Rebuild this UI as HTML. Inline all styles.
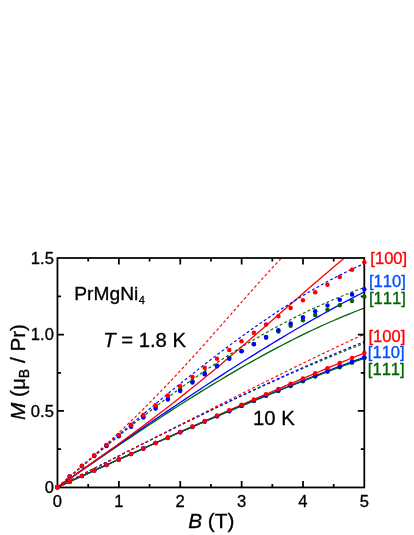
<!DOCTYPE html>
<html><head><meta charset="utf-8"><title>PrMgNi4 magnetization</title>
<style>
html,body{margin:0;padding:0;background:#fff;}
body{width:414px;height:535px;overflow:hidden;}
svg{display:block;will-change:transform;font-kerning:none;font-family:"Liberation Sans",sans-serif;}
text{stroke-width:0.32px;stroke-linejoin:round;}
</style></head><body>
<svg width="414" height="535" viewBox="0 0 414 535">
<rect width="414" height="535" fill="#fff"/>
<defs><clipPath id="cp"><rect x="57.40" y="258.10" width="306.90" height="229.10"/></clipPath></defs>

<g clip-path="url(#cp)" fill="none" stroke-width="1.30">
<path d="M57.40,487.20 L62.52,483.68 L67.63,480.16 L72.75,476.65 L77.86,473.13 L82.97,469.62 L88.09,466.12 L93.20,462.62 L98.32,459.12 L103.44,455.63 L108.55,452.16 L113.67,448.69 L118.78,445.23 L123.90,441.78 L129.01,438.34 L134.12,434.91 L139.24,431.50 L144.35,428.10 L149.47,424.72 L154.59,421.35 L159.70,418.00 L164.82,414.67 L169.93,411.35 L175.05,408.06 L180.16,404.79 L185.28,401.53 L190.39,398.30 L195.51,395.10 L200.62,391.91 L205.74,388.76 L210.85,385.62 L215.97,382.52 L221.08,379.44 L226.20,376.39 L231.31,373.37 L236.43,370.38 L241.54,367.42 L246.66,364.49 L251.77,361.60 L256.89,358.74 L262.00,355.91 L267.12,353.12 L272.23,350.37 L277.35,347.65 L282.46,344.97 L287.58,342.33 L292.69,339.73 L297.81,337.18 L302.92,334.66 L308.04,332.19 L313.15,329.76 L318.27,327.37 L323.38,325.03 L328.50,322.74 L333.61,320.49 L338.73,318.29 L343.84,316.14 L348.96,314.04 L354.07,311.99 L359.19,309.99 L364.30,308.04" stroke="#006400"/>
<path d="M57.40,487.20 L62.52,483.62 L67.63,480.04 L72.75,476.46 L77.86,472.88 L82.97,469.31 L88.09,465.74 L93.20,462.17 L98.32,458.60 L103.44,455.04 L108.55,451.49 L113.67,447.94 L118.78,444.39 L123.90,440.85 L129.01,437.32 L134.12,433.80 L139.24,430.28 L144.35,426.78 L149.47,423.28 L154.59,419.79 L159.70,416.31 L164.82,412.85 L169.93,409.39 L175.05,405.95 L180.16,402.52 L185.28,399.10 L190.39,395.70 L195.51,392.31 L200.62,388.93 L205.74,385.57 L210.85,382.22 L215.97,378.90 L221.08,375.58 L226.20,372.29 L231.31,369.01 L236.43,365.75 L241.54,362.51 L246.66,359.29 L251.77,356.09 L256.89,352.92 L262.00,349.76 L267.12,346.62 L272.23,343.51 L277.35,340.41 L282.46,337.35 L287.58,334.30 L292.69,331.28 L297.81,328.28 L302.92,325.31 L308.04,322.37 L313.15,319.45 L318.27,316.56 L323.38,313.70 L328.50,310.86 L333.61,308.06 L338.73,305.28 L343.84,302.53 L348.96,299.82 L354.07,297.13 L359.19,294.48 L364.30,291.85" stroke="#0000ff"/>
<path d="M57.40,487.20 L62.52,483.60 L67.63,480.01 L72.75,476.42 L77.86,472.83 L82.97,469.23 L88.09,465.63 L93.20,462.02 L98.32,458.40 L103.44,454.77 L108.55,451.12 L113.67,447.45 L118.78,443.76 L123.90,440.05 L129.01,436.31 L134.12,432.55 L139.24,428.77 L144.35,424.96 L149.47,421.12 L154.59,417.25 L159.70,413.35 L164.82,409.42 L169.93,405.46 L175.05,401.46 L180.16,397.44 L185.28,393.38 L190.39,389.30 L195.51,385.18 L200.62,381.03 L205.74,376.85 L210.85,372.64 L215.97,368.40 L221.08,364.14 L226.20,359.85 L231.31,355.53 L236.43,351.19 L241.54,346.82 L246.66,342.44 L251.77,338.03 L256.89,333.61 L262.00,329.18 L267.12,324.73 L272.23,320.27 L277.35,315.81 L282.46,311.34 L287.58,306.86 L292.69,302.39 L297.81,297.92 L302.92,293.46 L308.04,289.01 L313.15,284.58 L318.27,280.16 L323.38,275.77 L328.50,271.40 L333.61,267.06 L338.73,262.75 L343.84,258.49 L348.96,254.26 L354.07,250.09 L359.19,245.97 L364.30,241.90" stroke="#ff0000"/>
<path d="M57.40,487.20 L62.52,482.87 L67.63,478.55 L72.75,474.23 L77.86,469.91 L82.97,465.61 L88.09,461.32 L93.20,457.04 L98.32,452.77 L103.44,448.53 L108.55,444.30 L113.67,440.10 L118.78,435.92 L123.90,431.77 L129.01,427.64 L134.12,423.55 L139.24,419.49 L144.35,415.46 L149.47,411.46 L154.59,407.51 L159.70,403.59 L164.82,399.71 L169.93,395.87 L175.05,392.08 L180.16,388.32 L185.28,384.62 L190.39,380.96 L195.51,377.35 L200.62,373.78 L205.74,370.27 L210.85,366.80 L215.97,363.39 L221.08,360.03 L226.20,356.72 L231.31,353.46 L236.43,350.26 L241.54,347.10 L246.66,344.01 L251.77,340.96 L256.89,337.97 L262.00,335.04 L267.12,332.15 L272.23,329.33 L277.35,326.55 L282.46,323.83 L287.58,321.17 L292.69,318.56 L297.81,316.00 L302.92,313.49 L308.04,311.04 L313.15,308.64 L318.27,306.29 L323.38,304.00 L328.50,301.75 L333.61,299.56 L338.73,297.41 L343.84,295.32 L348.96,293.27 L354.07,291.27 L359.19,289.32 L364.30,287.41" stroke="#006400" stroke-dasharray="2.9 2.3" stroke-width="1.15"/>
<path d="M57.40,487.20 L62.52,482.81 L67.63,478.42 L72.75,474.03 L77.86,469.64 L82.97,465.25 L88.09,460.87 L93.20,456.49 L98.32,452.11 L103.44,447.74 L108.55,443.38 L113.67,439.03 L118.78,434.69 L123.90,430.36 L129.01,426.04 L134.12,421.73 L139.24,417.44 L144.35,413.17 L149.47,408.91 L154.59,404.67 L159.70,400.45 L164.82,396.25 L169.93,392.07 L175.05,387.91 L180.16,383.78 L185.28,379.68 L190.39,375.60 L195.51,371.55 L200.62,367.53 L205.74,363.54 L210.85,359.59 L215.97,355.67 L221.08,351.78 L226.20,347.93 L231.31,344.12 L236.43,340.35 L241.54,336.62 L246.66,332.93 L251.77,329.29 L256.89,325.69 L262.00,322.14 L267.12,318.64 L272.23,315.19 L277.35,311.80 L282.46,308.45 L287.58,305.16 L292.69,301.93 L297.81,298.76 L302.92,295.65 L308.04,292.60 L313.15,289.61 L318.27,286.69 L323.38,283.83 L328.50,281.05 L333.61,278.33 L338.73,275.69 L343.84,273.12 L348.96,270.63 L354.07,268.21 L359.19,265.87 L364.30,263.62" stroke="#0000ff" stroke-dasharray="2.9 2.3" stroke-width="1.15"/>
<path d="M57.40,487.20 L62.52,482.78 L67.63,478.36 L72.75,473.93 L77.86,469.49 L82.97,465.02 L88.09,460.53 L93.20,456.00 L98.32,451.43 L103.44,446.82 L108.55,442.17 L113.67,437.46 L118.78,432.70 L123.90,427.89 L129.01,423.01 L134.12,418.07 L139.24,413.08 L144.35,408.02 L149.47,402.90 L154.59,397.71 L159.70,392.46 L164.82,387.15 L169.93,381.78 L175.05,376.36 L180.16,370.87 L185.28,365.34 L190.39,359.75 L195.51,354.12 L200.62,348.44 L205.74,342.73 L210.85,336.98 L215.97,331.21 L221.08,325.42 L226.20,319.61 L231.31,313.79 L236.43,307.98 L241.54,302.17 L246.66,296.37 L251.77,290.60 L256.89,284.86 L262.00,279.16 L267.12,273.52 L272.23,267.94 L277.35,262.43 L282.46,257.01 L287.58,251.69 L292.69,246.47 L297.81,241.38 L302.92,236.42 L308.04,231.61 L313.15,226.96 L318.27,222.49 L323.38,218.21 L328.50,214.14 L333.61,210.30 L338.73,206.69 L343.84,203.34 L348.96,200.26 L354.07,197.48 L359.19,195.01 L364.30,192.86" stroke="#ff0000" stroke-dasharray="2.9 2.3" stroke-width="1.15"/>
<path d="M57.40,487.20 L62.52,484.88 L67.63,482.57 L72.75,480.25 L77.86,477.94 L82.97,475.62 L88.09,473.31 L93.20,470.99 L98.32,468.68 L103.44,466.37 L108.55,464.06 L113.67,461.75 L118.78,459.44 L123.90,457.13 L129.01,454.83 L134.12,452.53 L139.24,450.23 L144.35,447.93 L149.47,445.63 L154.59,443.34 L159.70,441.05 L164.82,438.76 L169.93,436.47 L175.05,434.19 L180.16,431.91 L185.28,429.63 L190.39,427.36 L195.51,425.09 L200.62,422.82 L205.74,420.56 L210.85,418.30 L215.97,416.05 L221.08,413.80 L226.20,411.55 L231.31,409.31 L236.43,407.07 L241.54,404.84 L246.66,402.61 L251.77,400.39 L256.89,398.17 L262.00,395.96 L267.12,393.75 L272.23,391.55 L277.35,389.35 L282.46,387.16 L287.58,384.97 L292.69,382.79 L297.81,380.62 L302.92,378.45 L308.04,376.29 L313.15,374.14 L318.27,371.99 L323.38,369.85 L328.50,367.72 L333.61,365.59 L338.73,363.47 L343.84,361.36 L348.96,359.25 L354.07,357.16 L359.19,355.07 L364.30,352.99" stroke="#ff0000"/>
<path d="M57.40,487.20 L62.52,484.88 L67.63,482.57 L72.75,480.25 L77.86,477.94 L82.97,475.62 L88.09,473.31 L93.20,471.00 L98.32,468.69 L103.44,466.38 L108.55,464.08 L113.67,461.77 L118.78,459.47 L123.90,457.18 L129.01,454.88 L134.12,452.59 L139.24,450.31 L144.35,448.02 L149.47,445.75 L154.59,443.47 L159.70,441.20 L164.82,438.94 L169.93,436.68 L175.05,434.43 L180.16,432.18 L185.28,429.94 L190.39,427.70 L195.51,425.47 L200.62,423.25 L205.74,421.04 L210.85,418.83 L215.97,416.63 L221.08,414.43 L226.20,412.25 L231.31,410.07 L236.43,407.91 L241.54,405.75 L246.66,403.60 L251.77,401.45 L256.89,399.32 L262.00,397.20 L267.12,395.09 L272.23,392.99 L277.35,390.90 L282.46,388.81 L287.58,386.75 L292.69,384.69 L297.81,382.64 L302.92,380.60 L308.04,378.58 L313.15,376.57 L318.27,374.57 L323.38,372.59 L328.50,370.61 L333.61,368.65 L338.73,366.71 L343.84,364.77 L348.96,362.86 L354.07,360.95 L359.19,359.06 L364.30,357.19" stroke="#0000ff"/>
<path d="M57.40,487.20 L62.52,484.88 L67.63,482.57 L72.75,480.25 L77.86,477.94 L82.97,475.62 L88.09,473.31 L93.20,471.00 L98.32,468.69 L103.44,466.39 L108.55,464.08 L113.67,461.78 L118.78,459.48 L123.90,457.19 L129.01,454.90 L134.12,452.61 L139.24,450.33 L144.35,448.05 L149.47,445.78 L154.59,443.51 L159.70,441.25 L164.82,438.99 L169.93,436.74 L175.05,434.49 L180.16,432.25 L185.28,430.02 L190.39,427.80 L195.51,425.58 L200.62,423.37 L205.74,421.17 L210.85,418.97 L215.97,416.79 L221.08,414.61 L226.20,412.44 L231.31,410.28 L236.43,408.13 L241.54,405.99 L246.66,403.86 L251.77,401.75 L256.89,399.64 L262.00,397.54 L267.12,395.45 L272.23,393.38 L277.35,391.32 L282.46,389.27 L287.58,387.23 L292.69,385.20 L297.81,383.19 L302.92,381.19 L308.04,379.20 L313.15,377.23 L318.27,375.27 L323.38,373.33 L328.50,371.40 L333.61,369.49 L338.73,367.59 L343.84,365.71 L348.96,363.84 L354.07,361.99 L359.19,360.15 L364.30,358.33" stroke="#006400"/>
<path d="M57.40,487.20 L62.52,484.59 L67.63,481.98 L72.75,479.37 L77.86,476.76 L82.97,474.15 L88.09,471.54 L93.20,468.94 L98.32,466.34 L103.44,463.74 L108.55,461.14 L113.67,458.55 L118.78,455.96 L123.90,453.38 L129.01,450.80 L134.12,448.22 L139.24,445.66 L144.35,443.09 L149.47,440.54 L154.59,437.98 L159.70,435.44 L164.82,432.90 L169.93,430.37 L175.05,427.85 L180.16,425.34 L185.28,422.83 L190.39,420.34 L195.51,417.85 L200.62,415.38 L205.74,412.91 L210.85,410.45 L215.97,408.01 L221.08,405.57 L226.20,403.15 L231.31,400.74 L236.43,398.34 L241.54,395.95 L246.66,393.57 L251.77,391.21 L256.89,388.87 L262.00,386.53 L267.12,384.21 L272.23,381.91 L277.35,379.62 L282.46,377.34 L287.58,375.08 L292.69,372.84 L297.81,370.61 L302.92,368.41 L308.04,366.21 L313.15,364.04 L318.27,361.88 L323.38,359.74 L328.50,357.62 L333.61,355.52 L338.73,353.44 L343.84,351.37 L348.96,349.33 L354.07,347.31 L359.19,345.31 L364.30,343.33" stroke="#006400" stroke-dasharray="2.9 2.3" stroke-width="1.15"/>
<path d="M57.40,487.20 L62.52,484.59 L67.63,481.98 L72.75,479.37 L77.86,476.76 L82.97,474.15 L88.09,471.54 L93.20,468.94 L98.32,466.33 L103.44,463.73 L108.55,461.13 L113.67,458.54 L118.78,455.95 L123.90,453.36 L129.01,450.78 L134.12,448.20 L139.24,445.62 L144.35,443.05 L149.47,440.49 L154.59,437.93 L159.70,435.38 L164.82,432.83 L169.93,430.29 L175.05,427.76 L180.16,425.23 L185.28,422.71 L190.39,420.20 L195.51,417.70 L200.62,415.20 L205.74,412.72 L210.85,410.24 L215.97,407.77 L221.08,405.32 L226.20,402.87 L231.31,400.43 L236.43,398.00 L241.54,395.59 L246.66,393.18 L251.77,390.79 L256.89,388.40 L262.00,386.03 L267.12,383.68 L272.23,381.33 L277.35,379.00 L282.46,376.68 L287.58,374.38 L292.69,372.08 L297.81,369.81 L302.92,367.55 L308.04,365.30 L313.15,363.07 L318.27,360.85 L323.38,358.65 L328.50,356.46 L333.61,354.29 L338.73,352.14 L343.84,350.01 L348.96,347.89 L354.07,345.79 L359.19,343.71 L364.30,341.65" stroke="#0000ff" stroke-dasharray="2.9 2.3" stroke-width="1.15"/>
<path d="M57.40,487.20 L62.52,484.60 L67.63,481.99 L72.75,479.39 L77.86,476.79 L82.97,474.19 L88.09,471.58 L93.20,468.98 L98.32,466.38 L103.44,463.77 L108.55,461.17 L113.67,458.57 L118.78,455.97 L123.90,453.36 L129.01,450.76 L134.12,448.16 L139.24,445.56 L144.35,442.96 L149.47,440.36 L154.59,437.76 L159.70,435.16 L164.82,432.56 L169.93,429.96 L175.05,427.36 L180.16,424.76 L185.28,422.17 L190.39,419.57 L195.51,416.98 L200.62,414.39 L205.74,411.80 L210.85,409.21 L215.97,406.63 L221.08,404.04 L226.20,401.46 L231.31,398.89 L236.43,396.31 L241.54,393.74 L246.66,391.17 L251.77,388.61 L256.89,386.05 L262.00,383.50 L267.12,380.95 L272.23,378.40 L277.35,375.86 L282.46,373.33 L287.58,370.81 L292.69,368.29 L297.81,365.78 L302.92,363.28 L308.04,360.79 L313.15,358.31 L318.27,355.83 L323.38,353.37 L328.50,350.92 L333.61,348.48 L338.73,346.05 L343.84,343.64 L348.96,341.24 L354.07,338.85 L359.19,336.49 L364.30,334.13" stroke="#ff0000" stroke-dasharray="2.9 2.3" stroke-width="1.15"/>
</g>
<g stroke="#000" stroke-width="1.75" fill="none">
<rect x="57.45" y="258.0" width="306.85" height="229.45"/>
<path d="M88.19,487.45 v-3.5 M88.19,258.0 v3.5"/>
<path d="M118.88,487.45 v-6.5 M118.88,258.0 v6.5"/>
<path d="M149.57,487.45 v-3.5 M149.57,258.0 v3.5"/>
<path d="M180.26,487.45 v-6.5 M180.26,258.0 v6.5"/>
<path d="M210.95,487.45 v-3.5 M210.95,258.0 v3.5"/>
<path d="M241.64,487.45 v-6.5 M241.64,258.0 v6.5"/>
<path d="M272.33,487.45 v-3.5 M272.33,258.0 v3.5"/>
<path d="M303.02,487.45 v-6.5 M303.02,258.0 v6.5"/>
<path d="M333.71,487.45 v-3.5 M333.71,258.0 v3.5"/>
<path d="M57.45,449.17 h3.5 M364.3,449.17 h-3.5"/>
<path d="M57.45,410.98 h6.5 M364.3,410.98 h-6.5"/>
<path d="M57.45,372.80 h3.5 M364.3,372.80 h-3.5"/>
<path d="M57.45,334.62 h6.5 M364.3,334.62 h-6.5"/>
<path d="M57.45,296.43 h3.5 M364.3,296.43 h-3.5"/>
</g>
<g fill="#006400">
<circle cx="57.40" cy="487.20" r="2.25"/>
<circle cx="69.68" cy="476.44" r="2.25"/>
<circle cx="81.95" cy="465.86" r="2.25"/>
<circle cx="94.23" cy="455.46" r="2.25"/>
<circle cx="106.50" cy="445.28" r="2.25"/>
<circle cx="118.78" cy="435.33" r="2.25"/>
<circle cx="131.06" cy="425.62" r="2.25"/>
<circle cx="143.33" cy="416.16" r="2.25"/>
<circle cx="155.61" cy="406.98" r="2.25"/>
<circle cx="167.88" cy="398.07" r="2.25"/>
<circle cx="180.16" cy="389.45" r="2.25"/>
<circle cx="192.44" cy="381.13" r="2.25"/>
<circle cx="204.71" cy="373.11" r="2.25"/>
<circle cx="216.99" cy="365.40" r="2.25"/>
<circle cx="229.26" cy="358.00" r="2.25"/>
<circle cx="241.54" cy="350.92" r="2.25"/>
<circle cx="253.82" cy="344.15" r="2.25"/>
<circle cx="266.09" cy="337.69" r="2.25"/>
<circle cx="278.37" cy="331.55" r="2.25"/>
<circle cx="290.64" cy="325.71" r="2.25"/>
<circle cx="302.92" cy="320.18" r="2.25"/>
<circle cx="315.20" cy="314.95" r="2.25"/>
<circle cx="327.47" cy="310.00" r="2.25"/>
<circle cx="339.75" cy="305.34" r="2.25"/>
<circle cx="352.02" cy="300.95" r="2.25"/>
<circle cx="364.30" cy="296.81" r="2.25"/>
</g>
<g fill="#0000ff">
<circle cx="57.40" cy="487.20" r="2.25"/>
<circle cx="69.68" cy="476.61" r="2.25"/>
<circle cx="81.95" cy="466.22" r="2.25"/>
<circle cx="94.23" cy="456.04" r="2.25"/>
<circle cx="106.50" cy="446.08" r="2.25"/>
<circle cx="118.78" cy="436.33" r="2.25"/>
<circle cx="131.06" cy="426.79" r="2.25"/>
<circle cx="143.33" cy="417.48" r="2.25"/>
<circle cx="155.61" cy="408.39" r="2.25"/>
<circle cx="167.88" cy="399.52" r="2.25"/>
<circle cx="180.16" cy="390.88" r="2.25"/>
<circle cx="192.44" cy="382.48" r="2.25"/>
<circle cx="204.71" cy="374.30" r="2.25"/>
<circle cx="216.99" cy="366.35" r="2.25"/>
<circle cx="229.26" cy="358.64" r="2.25"/>
<circle cx="241.54" cy="351.16" r="2.25"/>
<circle cx="253.82" cy="343.92" r="2.25"/>
<circle cx="266.09" cy="336.91" r="2.25"/>
<circle cx="278.37" cy="330.14" r="2.25"/>
<circle cx="290.64" cy="323.60" r="2.25"/>
<circle cx="302.92" cy="317.31" r="2.25"/>
<circle cx="315.20" cy="311.25" r="2.25"/>
<circle cx="327.47" cy="305.42" r="2.25"/>
<circle cx="339.75" cy="299.84" r="2.25"/>
<circle cx="352.02" cy="294.49" r="2.25"/>
<circle cx="364.30" cy="289.37" r="2.25"/>
</g>
<g fill="#ff0000">
<circle cx="57.40" cy="487.20" r="2.25"/>
<circle cx="69.68" cy="476.49" r="2.25"/>
<circle cx="81.95" cy="465.90" r="2.25"/>
<circle cx="94.23" cy="455.44" r="2.25"/>
<circle cx="106.50" cy="445.11" r="2.25"/>
<circle cx="118.78" cy="434.92" r="2.25"/>
<circle cx="131.06" cy="424.87" r="2.25"/>
<circle cx="143.33" cy="414.97" r="2.25"/>
<circle cx="155.61" cy="405.22" r="2.25"/>
<circle cx="167.88" cy="395.62" r="2.25"/>
<circle cx="180.16" cy="386.18" r="2.25"/>
<circle cx="192.44" cy="376.89" r="2.25"/>
<circle cx="204.71" cy="367.75" r="2.25"/>
<circle cx="216.99" cy="358.78" r="2.25"/>
<circle cx="229.26" cy="349.96" r="2.25"/>
<circle cx="241.54" cy="341.29" r="2.25"/>
<circle cx="253.82" cy="332.77" r="2.25"/>
<circle cx="266.09" cy="324.40" r="2.25"/>
<circle cx="278.37" cy="316.18" r="2.25"/>
<circle cx="290.64" cy="308.11" r="2.25"/>
<circle cx="302.92" cy="300.17" r="2.25"/>
<circle cx="315.20" cy="292.36" r="2.25"/>
<circle cx="327.47" cy="284.67" r="2.25"/>
<circle cx="339.75" cy="277.11" r="2.25"/>
<circle cx="352.02" cy="269.66" r="2.25"/>
<circle cx="364.30" cy="262.32" r="2.25"/>
</g>
<g fill="#006400">
<circle cx="57.40" cy="487.20" r="2.25"/>
<circle cx="69.68" cy="481.64" r="2.25"/>
<circle cx="81.95" cy="476.09" r="2.25"/>
<circle cx="94.23" cy="470.54" r="2.25"/>
<circle cx="106.50" cy="465.00" r="2.25"/>
<circle cx="118.78" cy="459.48" r="2.25"/>
<circle cx="131.06" cy="453.98" r="2.25"/>
<circle cx="143.33" cy="448.51" r="2.25"/>
<circle cx="155.61" cy="443.06" r="2.25"/>
<circle cx="167.88" cy="437.64" r="2.25"/>
<circle cx="180.16" cy="432.25" r="2.25"/>
<circle cx="192.44" cy="426.91" r="2.25"/>
<circle cx="204.71" cy="421.61" r="2.25"/>
<circle cx="216.99" cy="416.35" r="2.25"/>
<circle cx="229.26" cy="411.14" r="2.25"/>
<circle cx="241.54" cy="405.99" r="2.25"/>
<circle cx="253.82" cy="400.90" r="2.25"/>
<circle cx="266.09" cy="395.87" r="2.25"/>
<circle cx="278.37" cy="390.91" r="2.25"/>
<circle cx="290.64" cy="386.01" r="2.25"/>
<circle cx="302.92" cy="381.19" r="2.25"/>
<circle cx="315.20" cy="376.45" r="2.25"/>
<circle cx="327.47" cy="371.79" r="2.25"/>
<circle cx="339.75" cy="367.21" r="2.25"/>
<circle cx="352.02" cy="362.72" r="2.25"/>
<circle cx="364.30" cy="358.33" r="2.25"/>
</g>
<g fill="#0000ff">
<circle cx="57.40" cy="487.20" r="2.25"/>
<circle cx="69.68" cy="481.64" r="2.25"/>
<circle cx="81.95" cy="476.09" r="2.25"/>
<circle cx="94.23" cy="470.54" r="2.25"/>
<circle cx="106.50" cy="465.00" r="2.25"/>
<circle cx="118.78" cy="459.47" r="2.25"/>
<circle cx="131.06" cy="453.97" r="2.25"/>
<circle cx="143.33" cy="448.48" r="2.25"/>
<circle cx="155.61" cy="443.02" r="2.25"/>
<circle cx="167.88" cy="437.58" r="2.25"/>
<circle cx="180.16" cy="432.18" r="2.25"/>
<circle cx="192.44" cy="426.81" r="2.25"/>
<circle cx="204.71" cy="421.48" r="2.25"/>
<circle cx="216.99" cy="416.19" r="2.25"/>
<circle cx="229.26" cy="410.94" r="2.25"/>
<circle cx="241.54" cy="405.75" r="2.25"/>
<circle cx="253.82" cy="400.60" r="2.25"/>
<circle cx="266.09" cy="395.51" r="2.25"/>
<circle cx="278.37" cy="390.48" r="2.25"/>
<circle cx="290.64" cy="385.51" r="2.25"/>
<circle cx="302.92" cy="380.60" r="2.25"/>
<circle cx="315.20" cy="375.77" r="2.25"/>
<circle cx="327.47" cy="371.01" r="2.25"/>
<circle cx="339.75" cy="366.32" r="2.25"/>
<circle cx="352.02" cy="361.71" r="2.25"/>
<circle cx="364.30" cy="357.19" r="2.25"/>
</g>
<g fill="#ff0000">
<circle cx="57.40" cy="487.20" r="2.25"/>
<circle cx="69.68" cy="481.64" r="2.25"/>
<circle cx="81.95" cy="476.08" r="2.25"/>
<circle cx="94.23" cy="470.53" r="2.25"/>
<circle cx="106.50" cy="464.98" r="2.25"/>
<circle cx="118.78" cy="459.44" r="2.25"/>
<circle cx="131.06" cy="453.91" r="2.25"/>
<circle cx="143.33" cy="448.39" r="2.25"/>
<circle cx="155.61" cy="442.88" r="2.25"/>
<circle cx="167.88" cy="437.39" r="2.25"/>
<circle cx="180.16" cy="431.91" r="2.25"/>
<circle cx="192.44" cy="426.45" r="2.25"/>
<circle cx="204.71" cy="421.01" r="2.25"/>
<circle cx="216.99" cy="415.60" r="2.25"/>
<circle cx="229.26" cy="410.21" r="2.25"/>
<circle cx="241.54" cy="404.84" r="2.25"/>
<circle cx="253.82" cy="399.50" r="2.25"/>
<circle cx="266.09" cy="394.19" r="2.25"/>
<circle cx="278.37" cy="388.91" r="2.25"/>
<circle cx="290.64" cy="383.66" r="2.25"/>
<circle cx="302.92" cy="378.45" r="2.25"/>
<circle cx="315.20" cy="373.28" r="2.25"/>
<circle cx="327.47" cy="368.14" r="2.25"/>
<circle cx="339.75" cy="363.05" r="2.25"/>
<circle cx="352.02" cy="357.99" r="2.25"/>
<circle cx="364.30" cy="352.99" r="2.25"/>
</g>
<g fill="#000" stroke="#000" font-size="16.6px">
<text x="53.9" y="264.00" text-anchor="end">1.5</text>
<text x="53.9" y="340.37" text-anchor="end">1.0</text>
<text x="53.9" y="416.73" text-anchor="end">0.5</text>
<text x="53.9" y="493.10" text-anchor="end">0</text>
<text x="57.40" y="506.9" text-anchor="middle">0</text>
<text x="118.78" y="506.9" text-anchor="middle">1</text>
<text x="180.16" y="506.9" text-anchor="middle">2</text>
<text x="241.54" y="506.9" text-anchor="middle">3</text>
<text x="302.92" y="506.9" text-anchor="middle">4</text>
<text x="364.30" y="506.9" text-anchor="middle">5</text>
</g>
<text x="74.3" y="299.7" font-size="19.2px" fill="#000" stroke="#000">PrMgNi<tspan font-size="11px" dy="4.7" dx="0.6">4</tspan></text>
<text x="103.2" y="347.4" font-size="20.3px" fill="#000" stroke="#000"><tspan font-style="italic">T</tspan> = 1.8 K</text>
<text x="253" y="425.2" font-size="20.3px" fill="#000" stroke="#000">10 K</text>
<text x="211.3" y="528" font-size="20.8px" text-anchor="middle" fill="#000" stroke="#000"><tspan font-style="italic">B</tspan> (T)</text>
<text transform="translate(24.5,372) rotate(-90)" font-size="20.7px" text-anchor="middle" fill="#000" stroke="#000"><tspan font-style="italic">M</tspan> (μ<tspan font-size="14px" dy="4.5">B</tspan><tspan dy="-4.5"> / Pr)</tspan></text>
<text x="370.3" y="263.9" font-size="16.6px" fill="#ff0000" stroke="#ff0000">[100]</text>
<text x="369.0" y="287.4" font-size="16.6px" fill="#0050ff" stroke="#0050ff">[110]</text>
<text x="369.0" y="304.4" font-size="16.6px" fill="#006400" stroke="#006400">[111]</text>
<text x="368.5" y="342.0" font-size="16.6px" fill="#ff0000" stroke="#ff0000">[100]</text>
<text x="367.8" y="358.3" font-size="16.6px" fill="#0050ff" stroke="#0050ff">[110]</text>
<text x="367.8" y="374.8" font-size="16.6px" fill="#006400" stroke="#006400">[111]</text>
</svg></body></html>
